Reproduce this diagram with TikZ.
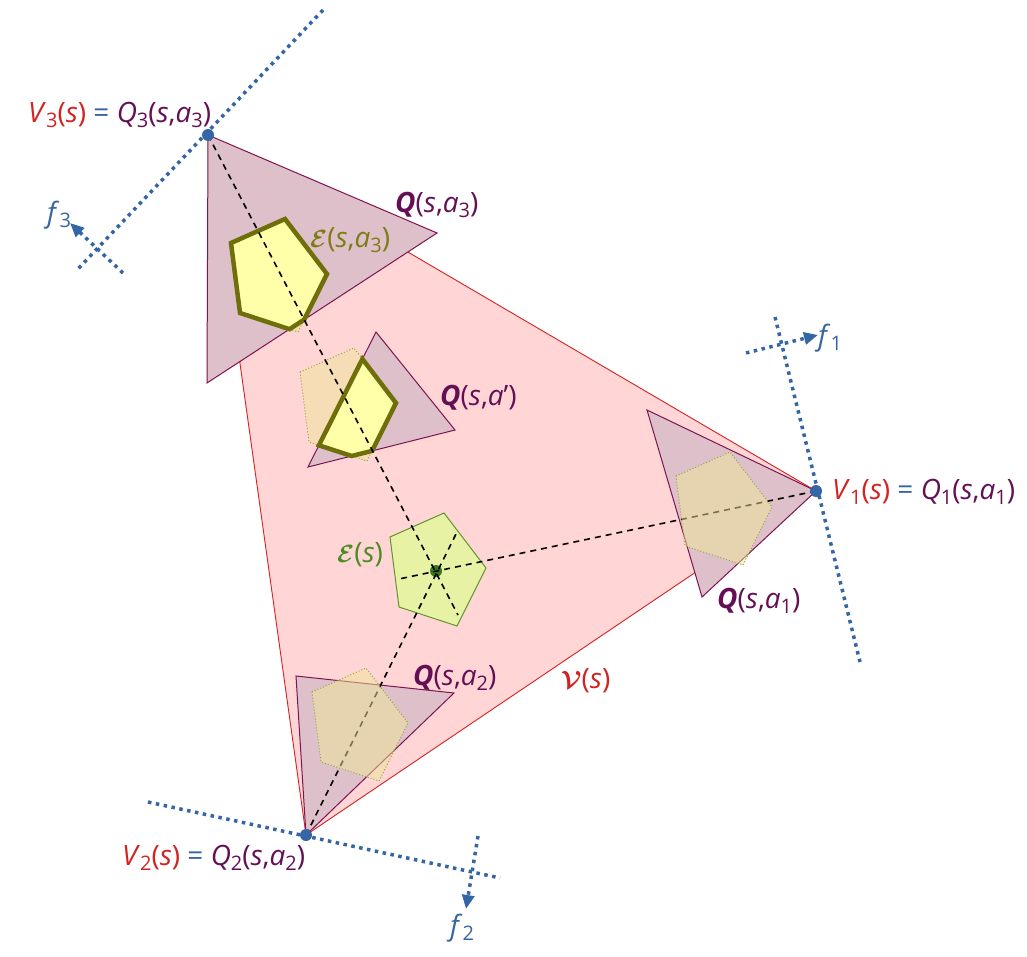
\documentclass[tikz,border=0pt]{standalone}
\usepackage{fontspec}
\setmainfont{Open Sans}
\usepackage{amsmath,bm}
\usetikzlibrary{arrows.meta}
\definecolor{vred}{RGB}{210,35,35}
\definecolor{vfill}{RGB}{255,213,213}
\definecolor{qfill}{RGB}{222,192,203}
\definecolor{qline}{RGB}{125,20,80}
\definecolor{qtext}{RGB}{100,15,85}
\definecolor{fblue}{RGB}{52,101,164}
\definecolor{efill}{RGB}{232,242,165}
\definecolor{eline}{RGB}{95,150,45}
\definecolor{etext}{RGB}{75,140,35}
\definecolor{edot}{RGB}{55,120,30}
\definecolor{ythick}{RGB}{255,255,170}
\definecolor{olivedark}{RGB}{110,110,10}
\definecolor{otext}{RGB}{125,125,20}
\definecolor{pfill}{RGB}{238,230,150}
\definecolor{pline}{RGB}{150,165,70}
\newcommand\sbx[1]{\raisebox{-0.35ex}{\fontsize{20}{20}\selectfont #1}}
\newcommand\pent[2]{({#1-46},{#2-34}) -- ({#1+8},{#2-58}) -- ({#1+50},{#2-3}) -- ({#1+21},{#2+55}) -- ({#1-37},{#2+36}) -- cycle}
\tikzset{
  vtri/.style={fill=vfill, draw=vred, line width=0.9pt},
  qtri/.style={fill=qfill, draw=qline, line width=1pt},
  ppent/.style={fill=pfill, fill opacity=0.5, draw=pline, draw opacity=1, line width=1pt, dash pattern=on 1pt off 2pt},
  epent/.style={fill=ythick, draw=olivedark, line width=4.5pt},
  espent/.style={fill=efill, draw=eline, line width=1pt},
  dline/.style={black, line width=1.6pt, dash pattern=on 6pt off 5pt},
  fline/.style={fblue, line width=3.5pt, dash pattern=on 3.5pt off 4.5pt},
  farrow/.style={fline, -{Triangle[length=14pt,width=12pt]}},
  vdot/.style={circle, fill=fblue, inner sep=0pt, minimum size=12pt},
  lbl/.style={inner sep=0pt, font=\fontsize{28}{32}\selectfont},
}
\begin{document}
\begin{tikzpicture}[x=1pt,y=-1pt]
\useasboundingbox (0,0) rectangle (1027,957);
% main triangle V(s)
\coordinate (V1p) at (816,491);
\coordinate (V2p) at (306,835);
\coordinate (V3p) at (208,135);
\draw[vtri] (V1p) -- (V2p) -- (V3p) -- cycle;
% Q triangles
\draw[qtri] (V3p) -- (437,233) -- (207,383) -- cycle;
\draw[qtri] (376,332) -- (455,430) -- (308,467) -- cycle;
\draw[qtri] (647,410) -- (V1p) -- (702,597) -- cycle;
\draw[qtri] (296,676) -- (454,693) -- (V2p) -- cycle;
% dotted (projected) pentagons behind clipped ones
\path[ppent] \pent{277}{277};
\path[ppent] \pent{346}{406};
% clipped pentagons
\draw[epent] (231,243) -- (285,219) -- (327,274) -- (304.2,319.6) -- (289.5,329.2) -- (240,313) -- cycle;
\draw[epent] (362.4,359) -- (396,403) -- (372.1,450.9) -- (351.7,456) -- (318.9,445.3) -- cycle;
% E(s)
\draw[espent] (390,537) -- (444,513) -- (486,568) -- (457,626) -- (399,607) -- cycle;
\node[circle, fill=edot, inner sep=0pt, minimum size=12pt] (Ec) at (436,571) {};
% dashed lines through E(s) centre
\coordinate (D3) at (458,615);
\coordinate (D2) at (457,532);
\coordinate (D1) at (399,579);
\draw[dline] (V3p) -- (D3);
\draw[dline] (V2p) -- (D2);
\draw[dline] (V1p) -- (D1);
% dotted pentagons on top
\path[ppent] \pent{722}{510};
\path[ppent] \pent{358}{726};
% frames
\coordinate (A3) at (323,10);
\coordinate (B3) at (77,270);
\coordinate (C3) at (123,273);
\coordinate (T3) at (70,223);
\draw[fline] (A3) -- (B3);
\draw[farrow] (C3) -- (T3);
\coordinate (A1) at (775,317);
\coordinate (B1) at (860,662);
\coordinate (C1) at (746,353);
\coordinate (T1) at (818,335);
\draw[fline] (A1) -- (B1);
\draw[farrow] (C1) -- (T1);
\coordinate (A2) at (148,802);
\coordinate (B2) at (500,878);
\coordinate (C2) at (478,836);
\coordinate (T2) at (466,909);
\draw[fline] (A2) -- (B2);
\draw[farrow] (C2) -- (T2);
% vertex dots
\node[vdot] (V1) at (V1p) {};
\node[vdot] (V2) at (V2p) {};
\node[vdot] (V3) at (V3p) {};
% labels
\node[lbl, anchor=west] (lV3) at (28,115) {\textcolor{vred}{\textit{V}\sbx{3}(\textit{s})} \textcolor{fblue}{=} \textcolor{qtext}{\textit{Q}\sbx{3}(\textit{s},\textit{a}\sbx{3})}};
\node[lbl, anchor=west] (lV1) at (832,492) {\textcolor{vred}{\textit{V}\sbx{1}(\textit{s})} \textcolor{fblue}{=} \textcolor{qtext}{\textit{Q}\sbx{1}(\textit{s},\textit{a}\sbx{1})}};
\node[lbl, anchor=west] (lV2) at (122,858) {\textcolor{vred}{\textit{V}\sbx{2}(\textit{s})} \textcolor{fblue}{=} \textcolor{qtext}{\textit{Q}\sbx{2}(\textit{s},\textit{a}\sbx{2})}};
\node[lbl, anchor=west, text=qtext] (lQ3) at (395,205) {\textbf{\textit{Q}}(\textit{s},\textit{a}\sbx{3})};
\node[lbl, anchor=west, text=qtext] (lQp) at (440,398) {\textbf{\textit{Q}}(\textit{s},\textit{a}\textquoteright)};
\node[lbl, anchor=west, text=qtext] (lQ1) at (717,601) {\textbf{\textit{Q}}(\textit{s},\textit{a}\sbx{1})};
\node[lbl, anchor=west, text=qtext] (lQ2) at (413,678) {\textbf{\textit{Q}}(\textit{s},\textit{a}\sbx{2})};
\node[lbl, anchor=west, text=otext] (lEa3) at (310,240) {$\bm{\mathcal{E}}$(\textit{s},\textit{a}\sbx{3})};
\node[lbl, anchor=west, text=etext] (lE) at (337,555) {$\bm{\mathcal{E}}$(\textit{s})};
\node[lbl, anchor=west, text=vred] (lV) at (561,681) {$\bm{\mathcal{V}}$(\textit{s})};
\node[lbl, anchor=west, text=fblue] (lf3) at (47,215) {\textit{f}\sbx{3}};
\node[lbl, anchor=west, text=fblue] (lf1) at (818,338) {\textit{f}\sbx{1}};
\node[lbl, anchor=west, text=fblue] (lf2) at (450,928) {\textit{f}\sbx{2}};
\end{tikzpicture}
\end{document}
